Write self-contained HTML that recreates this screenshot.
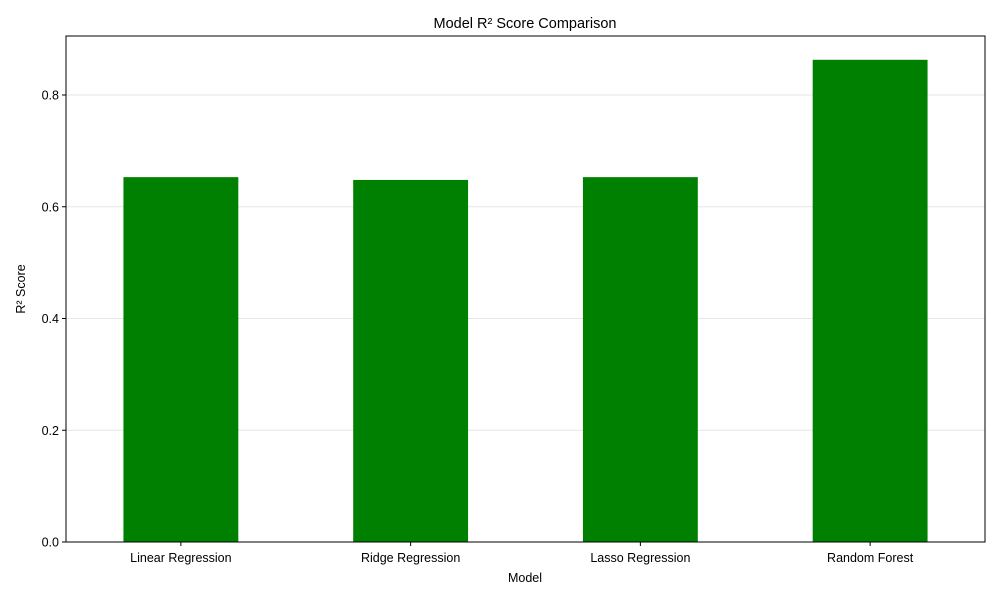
<!DOCTYPE html>
<html><head><meta charset="utf-8"><style>
body{margin:0;background:#fff;}
svg text{font-family:"Liberation Sans","DejaVu Sans",sans-serif;}
</style></head><body>
<svg id="chart" width="1000" height="600" xmlns="http://www.w3.org/2000/svg">
<rect width="1000" height="600" fill="#fff"/>
<text x="525" y="28" font-size="14.5" text-anchor="middle">Model R² Score Comparison</text>
<g id="grid"></g><g id="bars"></g><g id="axes"></g>
<text x="525" y="582" font-size="12.5" text-anchor="middle">Model</text>
<text transform="translate(25,289) rotate(-90)" font-size="12.5" text-anchor="middle">R² Score</text>
</svg>
<script>
const categories=["Linear Regression","Ridge Regression","Lasso Regression","Random Forest"];
const values=[0.653,0.648,0.653,0.863];
const yTicks=[0,0.2,0.4,0.6,0.8];
const yTickLabels=["0.0","0.2","0.4","0.6","0.8"];
const L=66,R=985,T=36,B=542,yMax=0.9056;
const NS="http://www.w3.org/2000/svg";
function y(v){return B-(v/yMax)*(B-T);}
function x(i){return L+(i+0.5)*(R-L)/categories.length;}
const bw=0.5*(R-L)/categories.length;
function mk(tag,attrs,parent,text){const e=document.createElementNS(NS,tag);for(const k in attrs)e.setAttribute(k,attrs[k]);if(text!==undefined)e.textContent=text;document.getElementById(parent).appendChild(e);return e;}
yTicks.forEach((t,i)=>{
  const g=mk("line",{x1:L,x2:R,y1:y(t),y2:y(t),stroke:"#e6e6e6","stroke-width":1},"grid");
  
  
  const tk=mk("line",{x1:L-4,x2:L,y1:y(t),y2:y(t),stroke:"#000"},"axes");
  
  
  const lb=mk("text",{x:L-7,y:y(t)+4.5,"font-size":12.5,"text-anchor":"end"},"axes",yTickLabels[i]);
  
  
});
categories.forEach((c,i)=>{
  const b=mk("rect",{x:x(i)-bw/2,y:y(values[i]),width:bw,height:B-y(values[i]),fill:"#008000"},"bars");
  
  
  const tk=mk("line",{x1:x(i),x2:x(i),y1:B,y2:B+4,stroke:"#000"},"axes");
  
  
  const lb=mk("text",{x:x(i),y:B+20,"font-size":12.5,"text-anchor":"middle"},"axes",c);
  
  
});
const fr=mk("rect",{x:L,y:T,width:R-L,height:B-T,fill:"none",stroke:"#000","stroke-width":1},"axes");


</script>
</body></html>
